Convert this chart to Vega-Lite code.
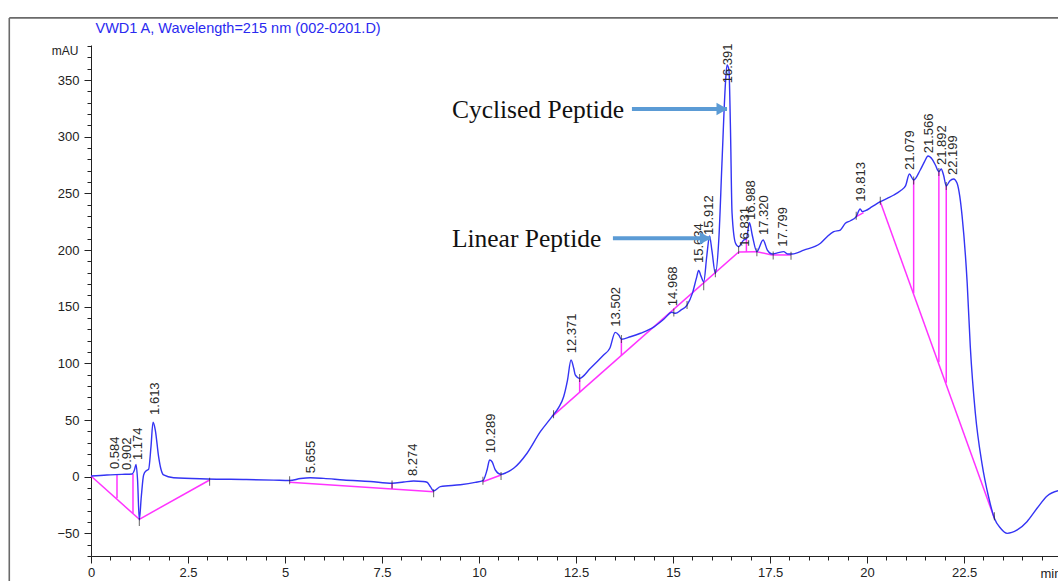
{
  "$schema": "https://vega.github.io/schema/vega-lite/v6.json",
  "width": 967,
  "height": 511,
  "autosize": "none",
  "padding": {"left": 91, "top": 45, "right": 0, "bottom": 25},
  "background": "white",
  "config": {
    "view": {"stroke": null},
    "font": "Liberation Sans",
    "axis": {"grid": false, "labelFont": "Liberation Sans", "titleFont": "Liberation Sans", "labelFlush": false, "labelOverlap": false}
  },
  "datasets": {
    "signal": [
      {"t":0,"v":0.6},{"t":0.41,"v":1.5},{"t":0.8,"v":2},{"t":1.057,"v":2.4},{"t":1.12,"v":6},{"t":1.16,"v":10.9},{"t":1.2,"v":-2.9},{"t":1.245,"v":-38.2},{"t":1.296,"v":-17.7},{"t":1.356,"v":1.5},{"t":1.425,"v":5.3},{"t":1.485,"v":6.5},{"t":1.546,"v":26.5},{"t":1.598,"v":48},{"t":1.657,"v":41.2},{"t":1.742,"v":17.7},{"t":1.8,"v":7},{"t":1.871,"v":1.5},{"t":2.129,"v":-0.9},{"t":2.99,"v":-2},{"t":4.0,"v":-2.5},{"t":4.706,"v":-3},{"t":5.119,"v":-3.4},{"t":5.4,"v":-1.6},{"t":5.652,"v":-0.9},{"t":6.0,"v":-1.5},{"t":6.51,"v":-2.9},{"t":7.2,"v":-4.3},{"t":7.758,"v":-5.8},{"t":8.057,"v":-4.7},{"t":8.314,"v":-3.8},{"t":8.55,"v":-4.2},{"t":8.66,"v":-4.9},{"t":8.75,"v":-9},{"t":8.83,"v":-12.6},{"t":9.003,"v":-8.8},{"t":9.518,"v":-7.1},{"t":9.9,"v":-5},{"t":10.1,"v":-3.5},{"t":10.206,"v":5.9},{"t":10.273,"v":14.7},{"t":10.335,"v":13.2},{"t":10.42,"v":5.9},{"t":10.567,"v":2.1},{"t":10.7,"v":3.5},{"t":10.892,"v":7.4},{"t":11.237,"v":20.7},{"t":11.58,"v":39.7},{"t":11.88,"v":53},{"t":12.05,"v":61},{"t":12.18,"v":70.6},{"t":12.28,"v":85.3},{"t":12.37,"v":103},{"t":12.44,"v":95.7},{"t":12.48,"v":89.8},{"t":12.59,"v":86.8},{"t":12.87,"v":95.7},{"t":13.21,"v":107.4},{"t":13.37,"v":113.3},{"t":13.51,"v":127.4},{"t":13.6,"v":125},{"t":13.67,"v":121.3},{"t":13.9,"v":123.5},{"t":14.16,"v":126.6},{"t":14.5,"v":132},{"t":14.76,"v":138.9},{"t":14.97,"v":145.1},{"t":15.06,"v":144.2},{"t":15.2,"v":147},{"t":15.36,"v":151.5},{"t":15.5,"v":162},{"t":15.6,"v":175},{"t":15.66,"v":182},{"t":15.72,"v":177},{"t":15.79,"v":172},{"t":15.87,"v":195},{"t":15.94,"v":212.4},{"t":16.0,"v":200},{"t":16.09,"v":179.5},{"t":16.18,"v":210},{"t":16.26,"v":276.6},{"t":16.35,"v":347.2},{"t":16.39,"v":363.4},{"t":16.44,"v":359},{"t":16.48,"v":306},{"t":16.52,"v":232.7},{"t":16.61,"v":206},{"t":16.69,"v":203},{"t":16.82,"v":208.9},{"t":16.89,"v":210},{"t":16.97,"v":224.2},{"t":17.04,"v":213.3},{"t":17.16,"v":198.6},{"t":17.32,"v":208.9},{"t":17.43,"v":200},{"t":17.55,"v":196.6},{"t":17.69,"v":197.5},{"t":17.85,"v":198.6},{"t":17.95,"v":196.6},{"t":18.07,"v":196.6},{"t":18.37,"v":200},{"t":18.8,"v":206},{"t":18.97,"v":211.8},{"t":19.14,"v":216.2},{"t":19.31,"v":217.7},{"t":19.44,"v":223.6},{"t":19.57,"v":225.9},{"t":19.72,"v":229.5},{"t":19.82,"v":236.3},{"t":19.88,"v":233.9},{"t":19.96,"v":234.8},{"t":20.13,"v":238.3},{"t":20.34,"v":242.7},{"t":20.52,"v":245.7},{"t":20.69,"v":248.6},{"t":20.86,"v":252.4},{"t":20.99,"v":256.6},{"t":21.09,"v":267.2},{"t":21.2,"v":261.9},{"t":21.37,"v":270.7},{"t":21.48,"v":278},{"t":21.57,"v":283},{"t":21.68,"v":280.1},{"t":21.76,"v":275.1},{"t":21.85,"v":269.2},{"t":21.91,"v":271.6},{"t":21.97,"v":266.3},{"t":22.04,"v":256.6},{"t":22.13,"v":261},{"t":22.23,"v":262.8},{"t":22.32,"v":259},{"t":22.39,"v":247.1},{"t":22.45,"v":229.5},{"t":22.58,"v":170.7},{"t":22.66,"v":114.7},{"t":22.79,"v":56},{"t":22.96,"v":11.8},{"t":23.13,"v":-17.7},{"t":23.28,"v":-36.7},{"t":23.44,"v":-45.5},{"t":23.61,"v":-50},{"t":23.87,"v":-47},{"t":24.12,"v":-39.7},{"t":24.38,"v":-27.9},{"t":24.64,"v":-17},{"t":24.93,"v":-12.4}
    ],
    "baselines": [
      {"t1":0,"v1":0.6,"t2":1.245,"v2":-37.6},
      {"t1":1.245,"v1":-37.6,"t2":3.057,"v2":-2.9},
      {"t1":0.67,"v1":-19.1,"t2":0.67,"v2":1.7},
      {"t1":1.082,"v1":-32.3,"t2":1.082,"v2":2.4},
      {"t1":5.119,"v1":-4.9,"t2":7.758,"v2":-10.9},
      {"t1":7.758,"v1":-10.9,"t2":8.83,"v2":-13.2},
      {"t1":7.758,"v1":-10.9,"t2":7.758,"v2":-5.8},
      {"t1":10.1,"v1":-4.4,"t2":10.567,"v2":1.5},
      {"t1":11.88,"v1":53,"t2":16.69,"v2":198.3},
      {"t1":16.69,"v1":198.3,"t2":17.16,"v2":198.6},
      {"t1":17.16,"v1":198.6,"t2":17.55,"v2":195.7},
      {"t1":17.55,"v1":195.7,"t2":18.04,"v2":195.7},
      {"t1":12.593,"v1":74.5,"t2":12.593,"v2":86.8},
      {"t1":13.668,"v1":107,"t2":13.668,"v2":121.3},
      {"t1":16.89,"v1":198.4,"t2":16.89,"v2":210},
      {"t1":19.72,"v1":229.5,"t2":19.91,"v2":233},
      {"t1":20.34,"v1":242.7,"t2":23.28,"v2":-36.7},
      {"t1":21.2,"v1":161.9,"t2":21.2,"v2":261.9},
      {"t1":21.85,"v1":101,"t2":21.85,"v2":269.2},
      {"t1":22.04,"v1":83,"t2":22.04,"v2":256.6}
    ],
    "marks": [
      {"t":1.245,"v":-40},{"t":3.057,"v":-4.5},{"t":5.119,"v":-3.2},{"t":7.758,"v":-7},{"t":8.83,"v":-14.7},{"t":10.1,"v":-3.6},{"t":10.567,"v":0.5},{"t":11.92,"v":55},{"t":12.593,"v":87},{"t":13.668,"v":121.5},{"t":15.02,"v":145},{"t":15.36,"v":151.5},{"t":15.79,"v":168},{"t":16.09,"v":179.5},{"t":16.69,"v":200},{"t":17.16,"v":198},{"t":17.58,"v":195.2},{"t":18.04,"v":195},{"t":19.72,"v":230.3},{"t":20.34,"v":243.5},{"t":21.2,"v":261.4},{"t":21.85,"v":269},{"t":22.04,"v":256.6},{"t":23.28,"v":-35}
    ],
    "peaks": [
      {"lab":"0.584","t":0.584,"v":6.8},{"lab":"0.902","t":0.902,"v":5.9},{"lab":"1.174","t":1.174,"v":14.7},{"lab":"1.613","t":1.613,"v":54.5},{"lab":"5.655","t":5.655,"v":3},{"lab":"8.274","t":8.274,"v":0.5},{"lab":"10.289","t":10.289,"v":20.7},{"lab":"12.371","t":12.371,"v":108.9},{"lab":"13.502","t":13.502,"v":132.4},{"lab":"14.968","t":14.968,"v":150.5},{"lab":"15.634","t":15.634,"v":188.6},{"lab":"15.912","t":15.912,"v":213.3},{"lab":"16.391","t":16.391,"v":347.2},{"lab":"16.831","t":16.831,"v":203},{"lab":"16.988","t":16.988,"v":226.6},{"lab":"17.320","t":17.32,"v":213.3},{"lab":"17.799","t":17.799,"v":203},{"lab":"19.813","t":19.813,"v":242.7},{"lab":"21.079","t":21.079,"v":270.7},{"lab":"21.566","t":21.566,"v":285.4},{"lab":"21.892","t":21.892,"v":275.1},{"lab":"22.199","t":22.199,"v":266.3}
    ],
    "notes": [
      {"name":"Cyclised Peptide","tx":9.3,"ty":316.3,"x0":13.94,"x1":16.39,"y":324.5},
      {"name":"Linear Peptide","tx":9.3,"ty":203,"x0":13.45,"x1":15.96,"y":210.4}
    ]
  },
  "layer": [
    {
      "data": {"values": [{}]},
      "mark": {"type": "rule", "color": "#6a6a6a", "strokeWidth": 1.6},
      "encoding": {
        "x": {"datum": -2.106, "type": "quantitative", "scale": {"domain": [0, 24.92], "nice": false, "zero": false}, "axis": null},
        "y": {"datum": 404.9, "type": "quantitative", "scale": {"domain": [-70, 381], "nice": false, "zero": false}, "axis": null},
        "y2": {"datum": -110}
      }
    },
    {
      "data": {"values": [{}]},
      "mark": {"type": "rule", "color": "#6a6a6a", "strokeWidth": 1.6},
      "encoding": {
        "x": {"datum": -2.106, "type": "quantitative", "axis": null},
        "x2": {"datum": 26},
        "y": {"datum": 404.9, "type": "quantitative", "axis": null}
      }
    },
    {
      "data": {"name": "baselines"},
      "mark": {"type": "rule", "color": "#ff33ff", "strokeWidth": 1.5},
      "encoding": {
        "x": {"field": "t1", "type": "quantitative", "axis": null},
        "y": {"field": "v1", "type": "quantitative", "axis": null},
        "x2": {"field": "t2"},
        "y2": {"field": "v2"}
      }
    },
    {
      "data": {"name": "signal"},
      "mark": {"type": "line", "color": "#3434f4", "strokeWidth": 1.4, "interpolate": "monotone"},
      "encoding": {
        "x": {"field": "t", "type": "quantitative", "scale": {"domain": [0, 24.92], "nice": false, "zero": false},
          "axis": {"orient": "bottom", "values": [0,2.5,5,7.5,10,12.5,15,17.5,20,22.5], "format": ".3~g", "tickSize": 7, "labelPadding": 3, "labelFontSize": 13, "labelColor": "#222", "domainColor": "#222", "tickColor": "#222", "title": "min", "titleX": 949, "titleY": 11, "titleAlign": "left", "titleBaseline": "top", "titleFontSize": 13, "titleFontWeight": "normal", "titleColor": "#222"}},
        "y": {"field": "v", "type": "quantitative", "scale": {"domain": [-70, 381], "nice": false, "zero": false},
          "axis": {"orient": "left", "values": [-50,0,50,100,150,200,250,300,350], "format": "d", "tickSize": 7, "labelPadding": 5, "labelFontSize": 13, "labelColor": "#222", "domainColor": "#222", "tickColor": "#222", "title": "mAU", "titleAngle": 0, "titleX": -13, "titleY": 5, "titleAlign": "right", "titleBaseline": "middle", "titleFontSize": 12, "titleFontWeight": "normal", "titleColor": "#222"}}
      }
    },
    {
      "data": {"name": "marks"},
      "mark": {"type": "tick", "orient": "vertical", "size": 8, "thickness": 1, "color": "#222"},
      "encoding": {
        "x": {"field": "t", "type": "quantitative",
          "axis": {"orient": "bottom", "values": [0.5,1,1.5,2,3,3.5,4,4.5,5.5,6,6.5,7,8,8.5,9,9.5,10.5,11,11.5,12,13,13.5,14,14.5,15.5,16,16.5,17,18,18.5,19,19.5,20.5,21,21.5,22,23,23.5,24,24.5], "labels": false, "domain": false, "tickSize": 4, "tickColor": "#222", "title": null}},
        "y": {"field": "v", "type": "quantitative",
          "axis": {"orient": "left", "values": [-70,-60,-40,-30,-20,-10,10,20,30,40,60,70,80,90,110,120,130,140,160,170,180,190,210,220,230,240,260,270,280,290,310,320,330,340,360,370,380], "labels": false, "domain": false, "tickSize": 4, "tickColor": "#222", "title": null}}
      }
    },
    {
      "data": {"name": "peaks"},
      "mark": {"type": "text", "angle": 270, "align": "left", "baseline": "middle", "fontSize": 13, "color": "#2a2a2a", "font": "Liberation Sans", "dy": 1},
      "encoding": {
        "x": {"field": "t", "type": "quantitative", "axis": null},
        "y": {"field": "v", "type": "quantitative", "axis": null},
        "text": {"field": "lab"}
      }
    },
    {
      "data": {"name": "notes"},
      "mark": {"type": "rule", "color": "#5b9bd5", "strokeWidth": 4},
      "encoding": {
        "x": {"field": "x0", "type": "quantitative", "axis": null},
        "x2": {"field": "x1"},
        "y": {"field": "y", "type": "quantitative", "axis": null}
      }
    },
    {
      "data": {"name": "notes"},
      "mark": {"type": "point", "shape": "triangle-right", "filled": true, "size": 160, "color": "#5b9bd5", "opacity": 1, "xOffset": -5},
      "encoding": {
        "x": {"field": "x1", "type": "quantitative", "axis": null},
        "y": {"field": "y", "type": "quantitative", "axis": null}
      }
    },
    {
      "data": {"name": "notes"},
      "mark": {"type": "text", "align": "left", "baseline": "alphabetic", "font": "Liberation Serif", "fontSize": 25.5, "color": "#111"},
      "encoding": {
        "x": {"field": "tx", "type": "quantitative",
          "axis": {"orient": "top", "domain": false, "ticks": false, "labels": false, "title": "VWD1 A, Wavelength=215 nm (002-0201.D)", "titleX": 4, "titleY": -13, "titleAlign": "left", "titleBaseline": "alphabetic", "titleColor": "#2a2af0", "titleFontSize": 14.5, "titleFontWeight": "normal", "titleFont": "Liberation Sans"}},
        "y": {"field": "ty", "type": "quantitative", "axis": null},
        "text": {"field": "name"}
      }
    }
  ],
  "resolve": {"axis": {"x": "independent", "y": "independent"}}
}
